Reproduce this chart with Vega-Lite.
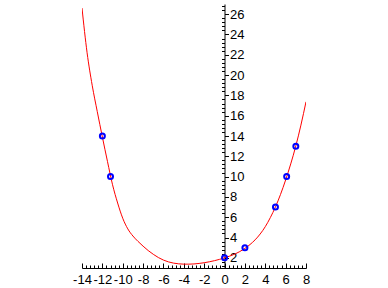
{
  "$schema": "https://vega.github.io/schema/vega-lite/v6.json",
  "width": 224,
  "height": 264,
  "autosize": "none",
  "padding": {"left": 82, "top": 4, "right": 82, "bottom": 20},
  "background": "white",
  "config": {
    "view": {"stroke": null},
    "axis": {
      "labelFont": "Liberation Sans",
      "labelFontSize": 13,
      "labelColor": "black",
      "domainColor": "black",
      "tickColor": "black",
      "grid": false,
      "title": null
    }
  },
  "datasets": {
    "curve": [
      {"x": -14.0, "y": 26.6},
      {"x": -13.5, "y": 22.2},
      {"x": -13.0, "y": 19.0},
      {"x": -12.5, "y": 16.4},
      {"x": -12.0, "y": 13.9},
      {"x": -11.5, "y": 11.5},
      {"x": -11.0, "y": 9.2},
      {"x": -10.5, "y": 7.4},
      {"x": -10.0, "y": 5.9},
      {"x": -9.5, "y": 4.85},
      {"x": -9.0, "y": 4.15},
      {"x": -8.5, "y": 3.62},
      {"x": -8.0, "y": 3.15},
      {"x": -7.5, "y": 2.72},
      {"x": -7.0, "y": 2.35},
      {"x": -6.5, "y": 2.03},
      {"x": -6.0, "y": 1.78},
      {"x": -5.5, "y": 1.6},
      {"x": -5.0, "y": 1.48},
      {"x": -4.5, "y": 1.41},
      {"x": -4.0, "y": 1.38},
      {"x": -3.5, "y": 1.38},
      {"x": -3.0, "y": 1.4},
      {"x": -2.5, "y": 1.45},
      {"x": -2.0, "y": 1.52},
      {"x": -1.5, "y": 1.61},
      {"x": -1.0, "y": 1.72},
      {"x": -0.5, "y": 1.85},
      {"x": 0.0, "y": 2.0},
      {"x": 0.5, "y": 2.17},
      {"x": 1.0, "y": 2.365},
      {"x": 1.5, "y": 2.62},
      {"x": 2.0, "y": 2.93},
      {"x": 2.5, "y": 3.31},
      {"x": 3.0, "y": 3.77},
      {"x": 3.5, "y": 4.35},
      {"x": 4.0, "y": 5.07},
      {"x": 4.5, "y": 5.97},
      {"x": 5.0, "y": 7.02},
      {"x": 5.5, "y": 8.25},
      {"x": 6.0, "y": 9.67},
      {"x": 6.5, "y": 11.25},
      {"x": 7.0, "y": 13.02},
      {"x": 7.5, "y": 15.07},
      {"x": 8.0, "y": 17.37}
    ],
    "points": [
      {"x": -12.0, "y": 14},
      {"x": -11.2, "y": 10},
      {"x": 0, "y": 2},
      {"x": 2, "y": 3},
      {"x": 5, "y": 7},
      {"x": 6.1, "y": 10},
      {"x": 7, "y": 13}
    ]
  },
  "layer": [
    {
      "data": {"name": "curve"},
      "mark": {"type": "line", "color": "#ff0000", "strokeWidth": 1, "interpolate": "monotone", "clip": true},
      "encoding": {
        "x": {
          "field": "x", "type": "quantitative",
          "scale": {"domain": [-14, 8], "nice": false, "zero": false},
          "axis": {
            "orient": "bottom",
            "values": [-14, -12, -10, -8, -6, -4, -2, 0, 2, 4, 6, 8],
            "labelExpr": "toString(datum.value)",
            "tickSize": -5,
            "labelPadding": 10,
            "labelFlush": false,
            "labelOverlap": false
          }
        },
        "y": {
          "field": "y", "type": "quantitative",
          "scale": {"domain": [1, 27], "nice": false, "zero": false},
          "axis": {
            "orient": "right",
            "offset": -81.5,
            "values": [2, 4, 6, 8, 10, 12, 14, 16, 18, 20, 22, 24, 26],
            "tickSize": 4,
            "labelPadding": 1,
            "labelFlush": false,
            "labelOverlap": false
          }
        }
      }
    },
    {
      "data": {"name": "points"},
      "mark": {"type": "point", "shape": "circle", "filled": false, "stroke": "#0000ff", "strokeWidth": 2, "size": 25, "opacity": 1},
      "encoding": {
        "x": {
          "field": "x", "type": "quantitative",
          "scale": {"domain": [-14, 8], "nice": false, "zero": false},
          "axis": {
            "orient": "bottom",
            "values": [-13.6, -13.2, -12.8, -12.4, -11.6, -11.2, -10.8, -10.4, -9.6, -9.2, -8.8, -8.4, -7.6, -7.2, -6.8, -6.4, -5.6, -5.2, -4.8, -4.4, -3.6, -3.2, -2.8, -2.4, -1.6, -1.2, -0.8, -0.4, 0.4, 0.8, 1.2, 1.6, 2.4, 2.8, 3.2, 3.6, 4.4, 4.8, 5.2, 5.6, 6.4, 6.8, 7.2, 7.6],
            "tickSize": -3,
            "labels": false,
            "domain": false
          }
        },
        "y": {
          "field": "y", "type": "quantitative",
          "scale": {"domain": [1, 27], "nice": false, "zero": false},
          "axis": {
            "orient": "right",
            "offset": -81.5,
            "values": [1.2, 1.6, 2.4, 2.8, 3.2, 3.6, 4.4, 4.8, 5.2, 5.6, 6.4, 6.8, 7.2, 7.6, 8.4, 8.8, 9.2, 9.6, 10.4, 10.8, 11.2, 11.6, 12.4, 12.8, 13.2, 13.6, 14.4, 14.8, 15.2, 15.6, 16.4, 16.8, 17.2, 17.6, 18.4, 18.8, 19.2, 19.6, 20.4, 20.8, 21.2, 21.6, 22.4, 22.8, 23.2, 23.6, 24.4, 24.8, 25.2, 25.6, 26.4, 26.8],
            "tickSize": -3,
            "labels": false,
            "domain": false
          }
        }
      }
    }
  ],
  "resolve": {"axis": {"x": "independent", "y": "independent"}}
}
